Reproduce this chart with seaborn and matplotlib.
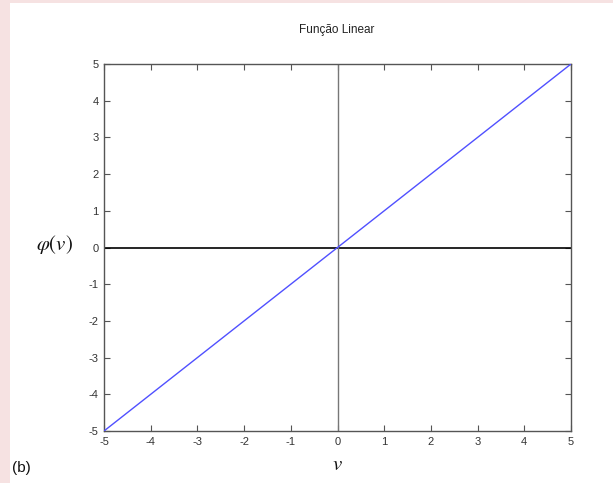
import matplotlib
matplotlib.use("Agg")
import matplotlib.pyplot as plt
from matplotlib.patches import Rectangle
import seaborn as sns
import pandas as pd

# Linear activation function samples
v_values = [-5, -4, -3, -2, -1, 0, 1, 2, 3, 4, 5]
phi_values = [-5, -4, -3, -2, -1, 0, 1, 2, 3, 4, 5]
tick_values = [-5, -4, -3, -2, -1, 0, 1, 2, 3, 4, 5]
tick_labels = ["-5", "-4", "-3", "-2", "-1", "0", "1", "2", "3", "4", "5"]

sns.set_style("white")
plt.rcParams["font.family"] = ["Liberation Sans", "DejaVu Sans"]
plt.rcParams["mathtext.fontset"] = "stix"

fig = plt.figure(figsize=(6.13, 4.83), dpi=100)
fig.patch.set_facecolor("white")

# soft pink frame strips along the left and top edges
fig.patches.append(Rectangle((0, 0), 10 / 613, 1, transform=fig.transFigure,
                             facecolor="#f6e2e2", edgecolor="none", zorder=0))
fig.patches.append(Rectangle((0, 1 - 3 / 483), 1, 3 / 483, transform=fig.transFigure,
                             facecolor="#f6e2e2", edgecolor="none", zorder=0))

ax = fig.add_axes([104 / 613, 1 - 431 / 483, (571 - 104) / 613, (431 - 64) / 483])

df = pd.DataFrame({"v": v_values, "phi": phi_values})
sns.lineplot(data=df, x="v", y="phi", ax=ax, color="#5050ff", linewidth=1.0, zorder=3)

ax.axhline(0, color="black", linewidth=1.2, zorder=2)
ax.axvline(0, color="#777777", linewidth=1.0, zorder=2)

ax.set_xlim(-5, 5)
ax.set_ylim(-5, 5)
ax.set_xticks(tick_values)
ax.set_xticklabels(tick_labels)
ax.set_yticks(tick_values)
ax.set_yticklabels(tick_labels)
ax.tick_params(direction="in", length=4, width=0.8, color="#555555",
               labelsize=8, labelcolor="#333333", top=True, right=True,
               bottom=True, left=True, pad=4)

for sp in ax.spines.values():
    sp.set_color("#555555")
    sp.set_linewidth(1.0)

ax.set_xlabel("")
ax.set_ylabel("")

fig.text(337 / 613, 1 - 30 / 483, "Função Linear", fontsize=8.5, ha="center", va="center",
         color="#222222")
fig.text(55 / 613, 1 - 245 / 483, r"$\varphi(v)$", fontsize=15, ha="center", va="center",
         color="#111111")
fig.text(337 / 613, 1 - 464 / 483, r"$v$", fontsize=15, ha="center", va="center",
         color="#111111")
fig.text(12 / 613, 1 - 468 / 483, "(b)", fontsize=11, ha="left", va="center",
         color="#111111")

fig.savefig("out.png", dpi=100)
